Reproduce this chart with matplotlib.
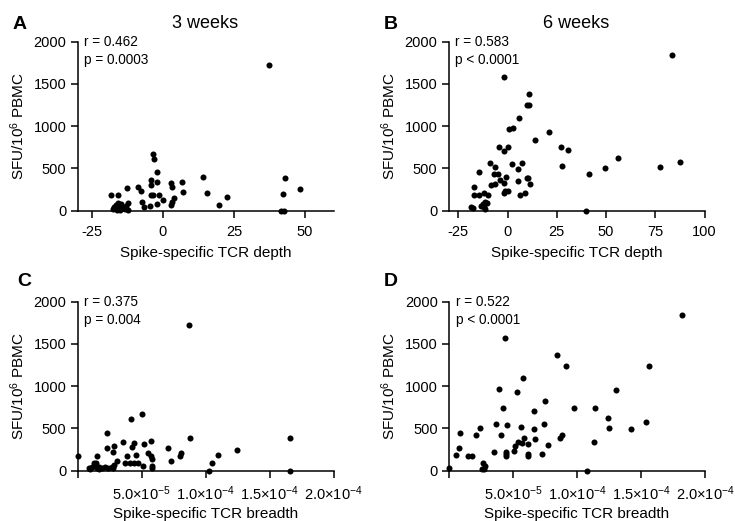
import matplotlib
matplotlib.use("Agg")
import matplotlib.pyplot as plt

plt.rcParams['font.family'] = ['Liberation Sans', 'DejaVu Sans']
plt.rcParams['mathtext.fontset'] = 'custom'
plt.rcParams['mathtext.rm'] = 'Liberation Sans'
plt.rcParams['mathtext.it'] = 'Liberation Sans:italic'
plt.rcParams['mathtext.bf'] = 'Liberation Sans:bold'

# Panel A: 3 weeks, depth
depth_3wk = [-18.2, -15.9, -12.6, -8.9, -7.8, -7.4, -6.6, -4.3, -4.3, -4.5, -4.1, -3.4, -3.2, -3.5,
             -2.2, -2.0, -1.5, -2.2, 0.1, 2.7, 3.2, 2.7, 3.2, 3.8, 6.7, 7.1, 14.2, 15.5, 19.8, 22.4,
             37.3, 41.5, 42.5, 42.3, 43.0, 48.3,
             -17.5, -17.0, -16.6, -16.2, -15.9, -15.6, -15.3, -15.0, -14.6, -14.3, -13.4, -12.8, -12.4, -12.2]
sfu_3wk_a = [185, 185, 272, 284, 233, 99, 47, 363, 304, 59, 185, 667, 611, 185,
             454, 335, 185, 75, 126, 323, 276, 67, 107, 146, 343, 225, 395, 213, 71, 166,
             1728, 0, 0, 194, 391, 260,
             20, 45, 70, 8, 92, 35, 62, 5, 80, 28, 15, 50, 88, 8]

# Panel B: 6 weeks, depth
depth_6wk = [-2.0, 11.0, 10.1, 11.1, 5.6, 0.5, 2.5, 21.1, 13.8, -4.2, 0.4, -2.0, 27.3, 30.7, 27.8,
             -8.7, -6.4, -14.6, -7.1, -5.1, 2.2, 7.1, 5.1, -0.6, -1.7, -3.7, -6.2, -8.2, 10.1, 10.6,
             5.4, 11.5, -1.2, 0.3, -2.0, 6.3, 8.8, -10.1, -12.1, -14.3, -17.2, -17.2,
             -11.3, -10.6, -12.3, -13.3, -12.1, -11.4, -18.5, -17.7,
             39.7, 41.6, 49.7, 55.9, 77.3, 83.3, 87.7]
sfu_6wk_b = [1579, 1377, 1251, 1251, 1093, 963, 975, 935, 833, 757, 757, 706, 757, 715, 529,
             561, 513, 458, 431, 431, 549, 561, 493, 395, 331, 363, 320, 304, 391, 383,
             351, 312, 237, 237, 213, 186, 206, 186, 206, 186, 186, 277,
             103, 95, 79, 59, 39, 16, 47, 35,
             0, 434, 505, 627, 513, 1838, 580]

# Panel C: 3 weeks, breadth (x1e-5)
breadth_3wk = [8.73, 8.78, 5.06, 4.16, 2.34, 0.0, 1.56, 2.34, 2.75, 2.88, 3.58, 4.23, 4.44, 5.22,
               5.74, 5.53, 5.74, 5.84, 3.84, 4.57, 3.12, 3.74, 4.10, 4.40, 4.75, 5.09, 5.79, 5.79,
               7.09, 7.30, 8.03, 8.08, 10.47, 10.29, 10.99, 12.49, 16.57, 16.57,
               0.86, 1.12, 1.25, 1.43, 1.38, 1.51, 1.69, 1.90, 2.16, 2.42, 2.68, 2.88, 2.81, 0.99, 1.71]
sfu_3wk_c = [1724, 391, 671, 608, 450, 178, 178, 264, 225, 296, 335, 284, 331, 320,
             351, 213, 174, 138, 174, 185, 110, 90, 95, 95, 95, 59, 59, 28,
             272, 114, 174, 205, 95, 0, 185, 248, 383, 0,
             28, 47, 87, 95, 67, 28, 47, 28, 47, 28, 47, 67, 28, 20, 20]

# Panel D: 6 weeks, breadth (x1e-5)
breadth_6wk = [18.2, 4.38, 8.41, 9.11, 15.65, 5.81, 3.91, 5.29, 13.05, 7.5, 4.24, 6.67, 9.79, 11.41, 12.4,
               0.86, 2.42, 2.09, 3.67, 4.53, 4.04, 5.62, 6.67, 7.4,
               0.8, 0.55, 1.46, 1.82, 3.54, 4.43, 4.48, 4.48, 5.05, 5.16, 5.36, 5.68, 5.86, 6.15,
               6.15, 6.15, 6.72, 7.26, 7.71, 8.67, 8.8,
               11.35, 12.5, 14.2, 15.4, 10.8,
               2.68, 2.81, 2.55, 2.76, 0.0]
sfu_6wk_d = [1838, 1566, 1369, 1239, 1239, 1093, 967, 935, 955, 828, 746, 710, 746, 746, 619,
             450, 509, 426, 556, 540, 426, 521, 493, 552,
             272, 181, 177, 177, 217, 225, 197, 170, 233, 292, 343, 323, 390, 316,
             197, 177, 371, 197, 304, 390, 426,
             343, 505, 497, 576, 0,
             87, 59, 20, 20, 28]

panel_letters = ['A', 'B', 'C', 'D']
titles = ['3 weeks', '6 weeks', '', '']
stats = [('r = 0.462', 'p = 0.0003'), ('r = 0.583', 'p < 0.0001'),
         ('r = 0.375', 'p = 0.004'), ('r = 0.522', 'p < 0.0001')]
depth_ticks_a = [-25, 0, 25, 50]
depth_ticks_b = [-25, 0, 25, 50, 75, 100]
breadth_ticks = [0, 5e-5, 1e-4, 1.5e-4, 2e-4]
breadth_labels = ['', r'5.0$\times$10$^{-5}$', r'1.0$\times$10$^{-4}$', r'1.5$\times$10$^{-4}$', r'2.0$\times$10$^{-4}$']
y_ticks = [0, 500, 1000, 1500, 2000]

W, H = 735, 521
fig = plt.figure(figsize=(W / 100, H / 100), dpi=100)

def ax_rect(left_px, bottom_px, width_px=256, height_px=169):
    return [left_px / W, 1 - bottom_px / H, width_px / W, height_px / H]

axes = [fig.add_axes(ax_rect(77.5, 210.7)),
        fig.add_axes(ax_rect(448.5, 210.7)),
        fig.add_axes(ax_rect(77.5, 470.7)),
        fig.add_axes(ax_rect(449, 470.7))]

datasets = [(depth_3wk, sfu_3wk_a, 1.0), (depth_6wk, sfu_6wk_b, 1.0),
            (breadth_3wk, sfu_3wk_c, 1e-5), (breadth_6wk, sfu_6wk_d, 1e-5)]
xlims = [(-30, 60), (-30, 100), (0, 2e-4), (0, 2e-4)]

for i, ax in enumerate(axes):
    xs, ys, scale = datasets[i]
    ax.scatter([x * scale for x in xs], ys, s=19, color='black', linewidths=0, clip_on=False, zorder=3)
    ax.set_xlim(*xlims[i])
    ax.set_ylim(0, 2000)
    for sp in ['top', 'right']:
        ax.spines[sp].set_visible(False)
    for sp in ['left', 'bottom']:
        ax.spines[sp].set_linewidth(1.1)
    ax.set_yticks(y_ticks)
    ax.set_yticklabels([str(v) for v in y_ticks])
    if i == 0:
        ax.set_xticks(depth_ticks_a)
        ax.set_xticklabels([str(v) for v in depth_ticks_a])
        ax.set_xlabel('Spike-specific TCR depth', fontsize=11, labelpad=5)
    elif i == 1:
        ax.set_xticks(depth_ticks_b)
        ax.set_xticklabels([str(v) for v in depth_ticks_b])
        ax.set_xlabel('Spike-specific TCR depth', fontsize=11, labelpad=5)
    else:
        ax.set_xticks(breadth_ticks)
        ax.set_xticklabels(breadth_labels)
        ax.set_xlabel('Spike-specific TCR breadth', fontsize=11, labelpad=3)
    ax.tick_params(axis='y', labelsize=10.5, length=5, width=1.1, pad=3, color='black')
    ax.tick_params(axis='x', labelsize=10.5, length=5, width=1.1, pad=5, color='black')
    ax.set_ylabel(r'SFU/10$^6$ PBMC', fontsize=11, labelpad=5)
    if titles[i]:
        ax.set_title(titles[i], fontsize=13, pad=10)
    ax.text(0.026, 1.0, stats[i][0], transform=ax.transAxes, fontsize=9.8, va='center', ha='left')
    ax.text(0.026, 0.89, stats[i][1], transform=ax.transAxes, fontsize=9.8, va='center', ha='left')

letter_pos = [(19.5, 24.5), (390.5, 24.5), (24, 281), (390.5, 282)]
for L, (x, y) in zip(panel_letters, letter_pos):
    fig.text(x / W, 1 - y / H, L, fontsize=14, fontweight='bold', ha='center', va='center')

fig.savefig('out.png', dpi=100)
